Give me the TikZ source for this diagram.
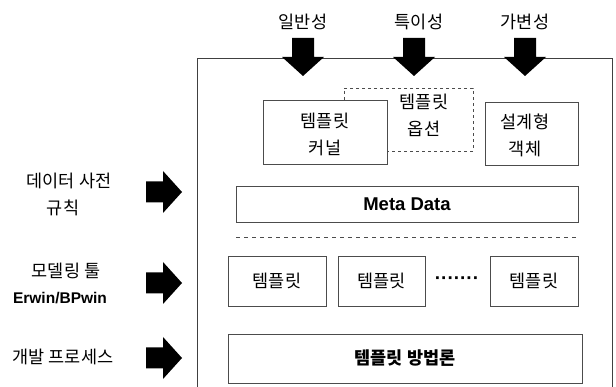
\documentclass[tikz,border=0pt]{standalone}
\usepackage{fontspec}
\setmainfont{Liberation Sans}
\newfontfamily\kr{Noto Sans CJK KR}
\begin{document}
\begin{tikzpicture}[x=1pt,y=-1pt,
  box/.style={draw=black!70,line width=0.8pt,fill=white,inner sep=0pt},
  lbl/.style={font=\kr\fontsize{17.5}{27}\selectfont,align=center,inner sep=0pt},
  darr/.pic={\fill[black] (-11,0) -- (11,0) -- (11,19) -- (21,19) -- (0,38) -- (-21,19) -- (-11,19) -- cycle;},
  rarr/.pic={\fill[black] (0,-10.5) -- (17,-10.5) -- (17,-21) -- (36,0) -- (17,21) -- (17,10.5) -- (0,10.5) -- cycle;}
]
\useasboundingbox (0,0) rectangle (616,387);
% outer frame (open at the bottom)
\coordinate (fbl) at (197,387);
\coordinate (ftl) at (197,58);
\coordinate (ftr) at (612,58);
\coordinate (fbr) at (612,387);
\draw[black!75,line width=0.9pt] (fbl) -- (ftl) -- (ftr) -- (fbr);
% top labels and arrows
\node[lbl] (gen) at (303,22) {일반성};
\node[lbl] (spe) at (419,22) {특이성};
\node[lbl] (var) at (525,22) {가변성};
\pic at (303,38) {darr};
\pic at (414,38) {darr};
\pic at (525,38) {darr};
% upper boxes
\node[box,dashed,fill=none,minimum width=129pt,minimum height=63pt] (opt) at (408.5,119.5) {};
\node[lbl] (optl) at (424,115) {템플릿\\옵션};
\node[box,minimum width=124pt,minimum height=64pt] (kern) at (325,132) {};
\node[lbl] (kernl) at (325,134.5) {템플릿\\커널};
\node[box,minimum width=93pt,minimum height=63pt] (dobj) at (531.5,133.5) {};
\node[lbl] (dobjl) at (525,135) {설계형\\객체};
% meta data
\node[box,minimum width=342pt,minimum height=36pt,font=\bfseries\fontsize{18.5}{20}\selectfont] (meta) at (407,204) {Meta Data};
% dashed separator
\coordinate (sepl) at (236,237);
\coordinate (sepr) at (578,237);
\draw[black!70,line width=0.8pt,dash pattern=on 4pt off 4pt] (sepl) -- (sepr);
% templates row
\node[box,minimum width=98pt,minimum height=50pt,font=\kr\fontsize{17.5}{20}\selectfont] (t1) at (277,281) {템플릿};
\node[box,minimum width=87pt,minimum height=50pt,font=\kr\fontsize{17.5}{20}\selectfont] (t2) at (381.5,281) {템플릿};
\node[inner sep=0pt,font=\bfseries\fontsize{19}{20}\selectfont] (dots) at (457,281) {·······};
\node[box,minimum width=88pt,minimum height=50pt,font=\kr\fontsize{17.5}{20}\selectfont] (t3) at (534,281) {템플릿};
% methodology
\node[box,minimum width=354pt,minimum height=49pt,font=\kr\bfseries\fontsize{17.5}{20}\selectfont] (meth) at (405,358.5) {템플릿 방법론};
% left labels and arrows
\node[lbl] (dd) at (69,181) {데이터 사전};
\node[lbl] (rule) at (63,208) {규칙};
\node[lbl] (mt) at (66,271) {모델링 툴};
\node[inner sep=0pt,font=\bfseries\fontsize{15.5}{18}\selectfont] (erw) at (60,298) {Erwin/BPwin};
\node[lbl] (dev) at (63,357) {개발 프로세스};
\pic at (146,192) {rarr};
\pic at (146,283) {rarr};
\pic at (146,358) {rarr};
\end{tikzpicture}
\end{document}
